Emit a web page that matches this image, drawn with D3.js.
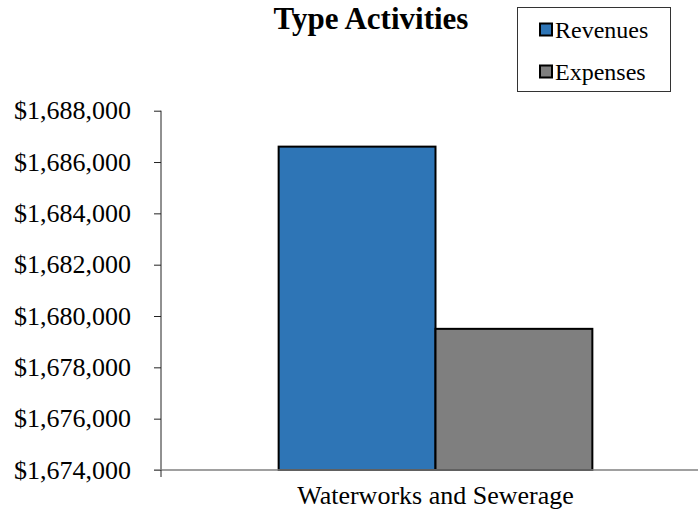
<!DOCTYPE html>
<html>
<head>
<meta charset="utf-8">
<script src="https://cdn.jsdelivr.net/npm/d3@7"></script>
<style>
  html, body { margin: 0; padding: 0; background: #fff; }
  svg { display: block; }
</style>
</head>
<body>
<svg id="chart" width="698" height="514"></svg>
<script>
// Chart data
const categories = ["Waterworks and Sewerage"];
const seriesNames = ["Revenues", "Expenses"];
const revenues = [1686600];
const expenses = [1679500];
const yTicks = [1674000, 1676000, 1678000, 1680000, 1682000, 1684000, 1686000, 1688000];
const seriesColors = ["#2E75B6", "#7F7F7F"];
const titleText = "Type Activities";

const FONT = "'Liberation Serif', Tinos, 'Times New Roman', 'DejaVu Serif', serif";

const svg = d3.select("#chart");

const plot = { left: 161, right: 710, top: 110.7, bottom: 470 };

const y = d3.scaleLinear().domain([1674000, 1688000]).range([plot.bottom, plot.top]);
const x0 = d3.scaleBand().domain(categories).range([plot.left, plot.right]).paddingInner(0).paddingOuter(0);
const x1 = d3.scaleBand().domain(seriesNames).range([0, x0.bandwidth()]).paddingInner(0).paddingOuter(0.75);

const fmt = v => "$" + d3.format(",")(v);

function label(g, x, yy, str, opts) {
  const t = g.append("text")
    .attr("x", x).attr("y", yy)
    .attr("font-family", FONT)
    .attr("fill", "#000")
    .attr("font-size", opts.size)
    .attr("text-anchor", opts.anchor || "start")
    .text(str);
  if (opts.weight) t.attr("font-weight", opts.weight);
  return t;
}

// Bars
const rows = categories.map((c, i) => ({ cat: c, values: [revenues[i], expenses[i]] }));
const groups = svg.append("g").selectAll("g").data(rows).join("g")
  .attr("transform", d => `translate(${x0(d.cat)},0)`);
groups.selectAll("rect").data(d => d.values.map((v, j) => ({ key: seriesNames[j], v, j })))
  .join("rect")
  .attr("x", d => x1(d.key))
  .attr("y", d => y(d.v))
  .attr("width", x1.bandwidth())
  .attr("height", d => y(1674000) - y(d.v))
  .attr("fill", d => seriesColors[d.j])
  .attr("stroke", "#000")
  .attr("stroke-width", 2);

// Y axis
const yAxis = d3.axisLeft(y).tickValues(yTicks).tickSize(7).tickFormat("");
const yg = svg.append("g").attr("transform", `translate(${plot.left},0)`).call(yAxis);
yg.selectAll("path, line").attr("stroke", "#222").attr("stroke-width", 1);
yg.select(".domain").attr("d", `M0,${plot.top}V${plot.bottom}`);
yTicks.forEach(v => {
  label(svg, 131, y(v) + 8.5, fmt(v), { size: 26, anchor: "end" });
});

// X axis
const xg = svg.append("g").attr("transform", `translate(0,${plot.bottom})`);
xg.append("line").attr("x1", plot.left - 7).attr("x2", plot.right).attr("y1", 0).attr("y2", 0)
  .attr("stroke", "#808080").attr("stroke-width", 1.5);
xg.selectAll("line.tick").data(x0.domain().concat([null])).join("line")
  .attr("class", "tick")
  .attr("x1", d => d === null ? plot.right : x0(d)).attr("x2", d => d === null ? plot.right : x0(d))
  .attr("y1", 0).attr("y2", 7).attr("stroke", "#222").attr("stroke-width", 1);
categories.forEach(c => {
  label(svg, x0(c) + x0.bandwidth() / 2, 504, c, { size: 26, anchor: "middle" });
});

// Title
label(svg, 371, 29, titleText, { size: 31, anchor: "middle", weight: "bold" });

// Legend
const lg = svg.append("g");
lg.append("rect").attr("x", 517.5).attr("y", 7.5).attr("width", 153).attr("height", 84)
  .attr("fill", "#fff").attr("stroke", "#333").attr("stroke-width", 1);
seriesNames.forEach((s, i) => {
  const cy = 29.5 + i * 42;
  lg.append("rect").attr("x", 540).attr("y", cy - 6).attr("width", 12).attr("height", 12)
    .attr("fill", seriesColors[i]).attr("stroke", "#000").attr("stroke-width", 2);
  label(lg, 555, cy + 8, s, { size: 24 });
});
</script>
</body>
</html>
